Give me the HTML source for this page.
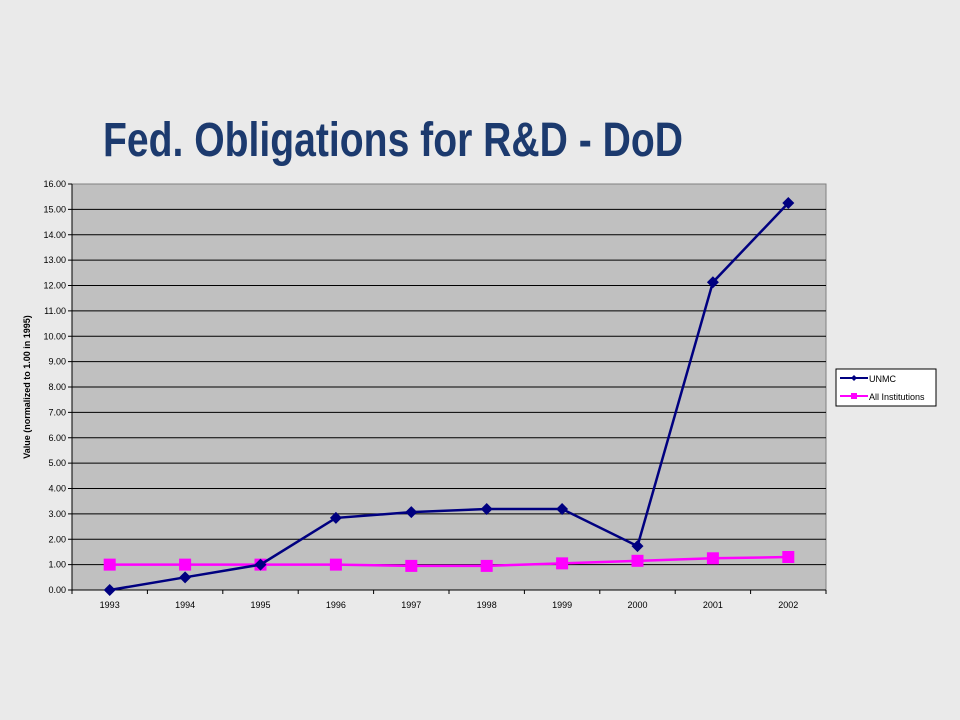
<!DOCTYPE html>
<html><head><meta charset="utf-8"><style>
html,body{margin:0;padding:0;background:#eaeaea;}
svg{display:block;}
</style></head><body>
<svg id="chart" width="960" height="720" xmlns="http://www.w3.org/2000/svg" font-family="Liberation Sans, sans-serif">
<rect x="0" y="0" width="960" height="720" fill="#eaeaea"/>
<text x="103" y="156" font-family="Liberation Sans Narrow, Liberation Sans, sans-serif" font-weight="bold" font-size="48" fill="#1c3a6e" textLength="580" lengthAdjust="spacingAndGlyphs">Fed. Obligations for R&amp;D - DoD</text>
<rect x="72" y="184" width="754" height="406" fill="#c0c0c0" stroke="#808080" stroke-width="1"/>
<g id="grid"></g>
<g id="axes"></g>
<g id="series"></g>
<text transform="translate(30,387) rotate(-90)" text-anchor="middle" font-size="9" font-weight="bold" fill="#000">Value (normalized to 1.00 in 1995)</text>
<g>
<rect x="836" y="369" width="100" height="37" fill="#fff" stroke="#000" stroke-width="1"/>
<line x1="840" y1="378" x2="868" y2="378" stroke="#000080" stroke-width="2"/>
<polygon points="854,375 857,378 854,381 851,378" fill="#000080"/>
<text x="869" y="382" font-size="9" fill="#000">UNMC</text>
<line x1="840" y1="396" x2="868" y2="396" stroke="#ff00ff" stroke-width="2"/>
<rect x="851" y="393" width="6" height="6" fill="#ff00ff"/>
<text x="869" y="400" font-size="9" fill="#000">All Institutions</text>
</g>
</svg>
<script>
const categories = ["1993","1994","1995","1996","1997","1998","1999","2000","2001","2002"];
const unmcValues = [0, 0.5, 1.0, 2.84, 3.07, 3.19, 3.19, 1.73, 12.13, 15.25];
const allValues = [1.0, 1.0, 1.0, 1.0, 0.95, 0.95, 1.05, 1.15, 1.25, 1.3];
const yTicks = [0,1,2,3,4,5,6,7,8,9,10,11,12,13,14,15,16];

const NS = "http://www.w3.org/2000/svg";
const L = 72, R = 826, T = 184, B = 590, YMAX = 16;
const step = (R - L) / categories.length;
const x = i => L + step * (i + 0.5);
const y = v => B - (v / YMAX) * (B - T);
function mk(tag, attrs, parent) {
  const e = document.createElementNS(NS, tag);
  for (const k in attrs) e.setAttribute(k, attrs[k]);
  parent.appendChild(e);
  return e;
}
const grid = document.getElementById('grid');
const axes = document.getElementById('axes');
const series = document.getElementById('series');

yTicks.forEach(v => {
  if (v > 0 && v < YMAX) {
    const g = mk('line', {x1: L, x2: R, y1: y(v), y2: y(v), stroke: '#000', 'stroke-width': 1}, grid);
    
    
  }
  const t = mk('line', {x1: L - 4, x2: L, y1: y(v), y2: y(v), stroke: '#000'}, axes);
  
  
  const lb = mk('text', {x: L - 6, y: y(v) + 3, 'text-anchor': 'end', 'font-size': 9, fill: '#000'}, axes);
  lb.textContent = v.toFixed(2);
  
  
});
const xa = mk('line', {x1: L, x2: R, y1: B, y2: B, stroke: '#000'}, axes);


const ya = mk('line', {x1: L, x2: L, y1: T, y2: B, stroke: '#000'}, axes);


for (let i = 0; i <= categories.length; i++) {
  const t = mk('line', {x1: L + step * i, x2: L + step * i, y1: B, y2: B + 4, stroke: '#000'}, axes);
  
  
}
categories.forEach((c, i) => {
  const lb = mk('text', {x: x(i), y: B + 18, 'text-anchor': 'middle', 'font-size': 9, fill: '#000'}, axes);
  lb.textContent = c;
  
  
});

const allLine = mk('polyline', {points: allValues.map((v, i) => x(i) + ',' + y(v)).join(' '), fill: 'none', stroke: '#ff00ff', 'stroke-width': 2.5}, series);


allValues.forEach((v, i) => {
  const m = mk('rect', {x: x(i) - 6, y: y(v) - 6, width: 12, height: 12, fill: '#ff00ff'}, series);
  
  
});
const uLine = mk('polyline', {points: unmcValues.map((v, i) => x(i) + ',' + y(v)).join(' '), fill: 'none', stroke: '#000080', 'stroke-width': 2.5}, series);


unmcValues.forEach((v, i) => {
  const cx = x(i), cy = y(v);
  const m = mk('polygon', {points: `${cx},${cy-6} ${cx+6},${cy} ${cx},${cy+6} ${cx-6},${cy}`, fill: '#000080'}, series);
  
  
});
</script>
</body></html>
